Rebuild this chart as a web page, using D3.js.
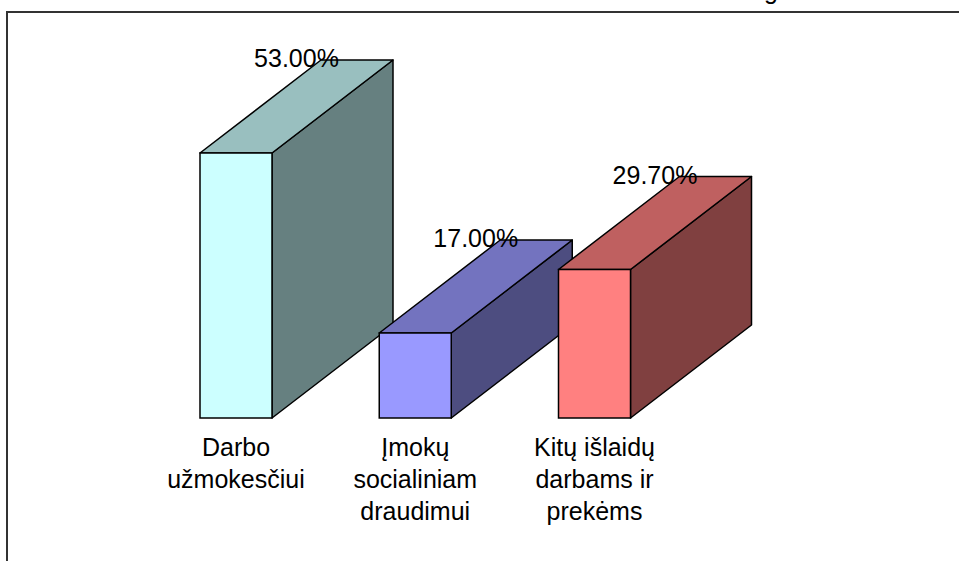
<!DOCTYPE html>
<html>
<head>
<meta charset="utf-8">
<script src="https://cdn.jsdelivr.net/npm/d3@7"></script>
<style>
  html, body { margin: 0; padding: 0; background: #fff; }
  svg { display: block; }
  text { font-family: "Liberation Sans", Arial, sans-serif; fill: #000; }
</style>
</head>
<body>
<div id="chart"></div>
<script>
const categories = ["Darbo užmokesčiui", "Įmokų socialiniam draudimui", "Kitų išlaidų darbams ir prekėms"];
const categoryLines = [
  ["Darbo", "užmokesčiui"],
  ["Įmokų", "socialiniam", "draudimui"],
  ["Kitų išlaidų", "darbams ir", "prekėms"]
];
const values = [53.0, 17.0, 29.7];
const frontColors = ["#ccffff", "#9999ff", "#ff8080"];

const width = 959;
const height = 561;
const depthX = 121;
const depthY = -93;
const barWidth = 72;

const svg = d3.select("#chart")
  .append("svg")
  .attr("width", width)
  .attr("height", height);

// frame (only top and left edges are visible in the crop)
svg.append("path")
  .attr("d", "M7,561 V12 H959")
  .attr("fill", "none")
  .attr("stroke", "#333")
  .attr("stroke-width", 2);

// title mostly cut off above the view
svg.append("text")
  .attr("x", 771)
  .attr("y", -1)
  .attr("text-anchor", "middle")
  .style("font-size", "25px")
  .text("g");

const x = d3.scalePoint().domain(categories).range([236, 594.5]);
const y = d3.scaleLinear().domain([0, 60]).range([418, 118]);

const shade = (c, k) => {
  const r = d3.rgb(c);
  return d3.rgb(r.r * k, r.g * k, r.b * k).formatHex();
};

const data = categories.map((c, i) => ({ cat: c, value: values[i], color: frontColors[i], lines: categoryLines[i] }));

const bars = svg.append("g").selectAll("g.bar")
  .data(data)
  .join("g")
  .attr("class", "bar");

bars.each(function (d) {
  const g = d3.select(this);
  const x0 = x(d.cat) - barWidth / 2;
  const x1 = x0 + barWidth;
  const yt = y(d.value);
  const yb = y(0);

  // side face
  g.append("path")
    .attr("d", `M${x1},${yb} L${x1 + depthX},${yb + depthY} L${x1 + depthX},${yt + depthY} L${x1},${yt} Z`)
    .attr("fill", shade(d.color, 0.5))
    .attr("stroke", "#000")
    .attr("stroke-width", 1.5)
    .attr("stroke-linejoin", "round");

  // top face
  g.append("path")
    .attr("d", `M${x0},${yt} L${x0 + depthX},${yt + depthY} L${x1 + depthX},${yt + depthY} L${x1},${yt} Z`)
    .attr("fill", shade(d.color, 0.75))
    .attr("stroke", "#000")
    .attr("stroke-width", 1.5)
    .attr("stroke-linejoin", "round");

  // front face
  g.append("rect")
    .attr("x", x0)
    .attr("y", yt)
    .attr("width", barWidth)
    .attr("height", yb - yt)
    .attr("fill", d.color)
    .attr("stroke", "#000")
    .attr("stroke-width", 1.5);
});

const fmt = d3.format(".2f");

// value labels
svg.append("g").selectAll("text")
  .data(data)
  .join("text")
  .attr("x", d => x(d.cat) + depthX / 2)
  .attr("y", d => y(d.value) + depthY + 7)
  .attr("text-anchor", "middle")
  .style("font-size", "25px")
  .text(d => fmt(d.value) + "%");

// category labels
const labels = svg.append("g").selectAll("text")
  .data(data)
  .join("text")
  .attr("text-anchor", "middle")
  .style("font-size", "25px");

labels.selectAll("tspan")
  .data(d => d.lines.map(l => ({ l, cx: x(d.cat) })))
  .join("tspan")
  .attr("x", d => d.cx)
  .attr("y", (d, i) => 456 + i * 32)
  .text(d => d.l);
</script>
</body>
</html>
